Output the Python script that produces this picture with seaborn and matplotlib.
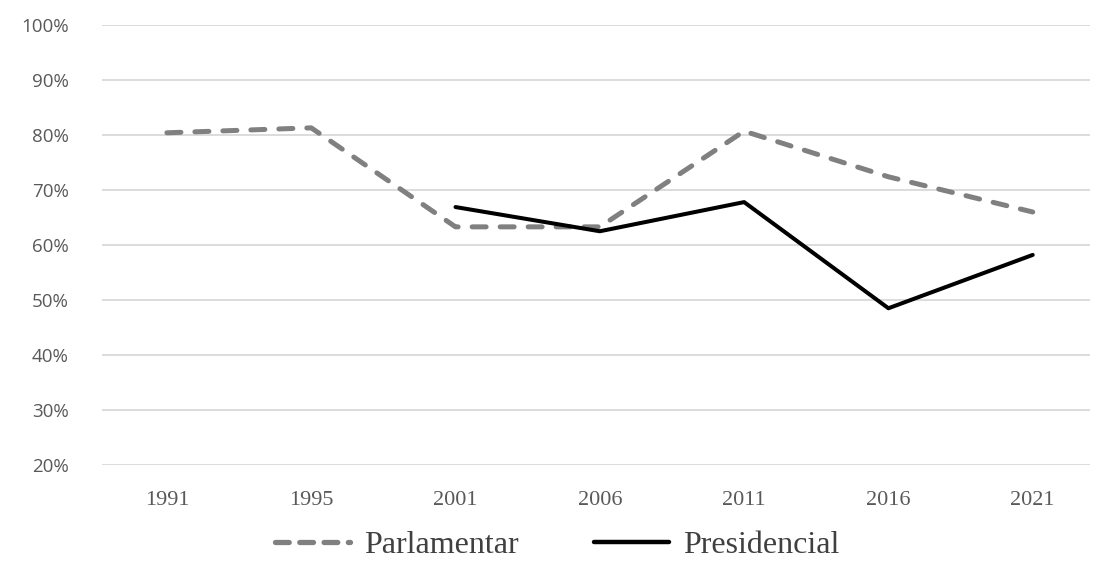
import pandas as pd
import seaborn as sns
import matplotlib.pyplot as plt
import numpy as np

# Data (turnout, %)
years = ["1991", "1995", "2001", "2006", "2011", "2016", "2021"]
parlamentar = [80.4, 81.3, 63.3, 63.3, 80.7, 72.4, 66.0]
presidencial = [np.nan, np.nan, 66.9, 62.5, 67.8, 48.5, 58.2]
series_names = ["Parlamentar", "Presidencial"]
y_ticks = [20, 30, 40, 50, 60, 70, 80, 90, 100]

df = pd.DataFrame({"pos": range(len(years)), "Parlamentar": parlamentar, "Presidencial": presidencial})
df = df.melt(id_vars="pos", var_name="serie", value_name="valor").dropna()

sns.set_style("white")

fig = plt.figure(figsize=(10.93, 5.68), dpi=100)
ax = fig.add_axes([0.0933, 0.1813, 0.9037, 0.7747])

sns.lineplot(
    data=df,
    x="pos",
    y="valor",
    hue="serie",
    style="serie",
    hue_order=series_names,
    style_order=series_names,
    palette={"Parlamentar": "#808080", "Presidencial": "#000000"},
    dashes={"Parlamentar": (2.8, 2.8), "Presidencial": ""},
    legend=False,
    ax=ax,
)

lines = ax.get_lines()
lines[0].set_linewidth(3.6)
lines[0].set_dash_capstyle("round")
lines[1].set_linewidth(2.9)

# Axes styling
ax.set_ylim(20, 100)
ax.set_yticks(y_ticks)
ax.set_yticklabels([f"{t}%" for t in y_ticks], fontfamily="Open Sans", fontsize=13.5, color="#595959")
ax.set_xlim(-0.45, 6.395)
ax.set_xticks(range(len(years)))
ax.set_xticklabels(years, fontfamily="Liberation Serif", fontsize=16, color="#595959")
ax.tick_params(axis="y", length=0, pad=24)
ax.tick_params(axis="x", length=0, pad=19)
ax.grid(axis="y", color="#d9d9d9", linewidth=1.3)
ax.set_axisbelow(True)
for s in ax.spines.values():
    s.set_visible(False)
ax.set_xlabel("")
ax.set_ylabel("")

# Legend at the bottom
handles = [
    plt.Line2D([], [], color="#808080", linewidth=3.8, dashes=(2.6, 2.0), dash_capstyle="round"),
    plt.Line2D([], [], color="#000000", linewidth=3.2),
]
fig.legend(
    handles,
    series_names,
    loc="center",
    bbox_to_anchor=(0.51, 0.04),
    ncol=2,
    frameon=False,
    prop={"family": "Liberation Serif", "size": 23},
    labelcolor="#404040",
    handlelength=2.35,
    handletextpad=0.45,
    columnspacing=2.35,
    borderpad=0.1,
)

fig.savefig("out.png", dpi=100)
